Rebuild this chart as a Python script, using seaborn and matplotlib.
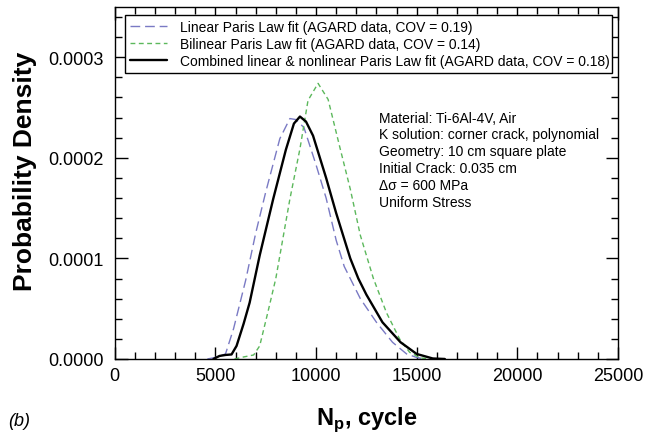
import matplotlib
matplotlib.use("Agg")
import matplotlib.pyplot as plt
import seaborn as sns
import pandas as pd
from matplotlib.ticker import MultipleLocator, FormatStrFormatter

# ---- data ----
linear_x = [4600, 5000, 5500, 5900, 6500, 7000, 7500, 8200, 8700, 9000, 9400,
            10000, 10500, 11000, 11400, 12200, 13000, 13800, 14500, 15000, 15400]
linear_y = [0, 0.0000015, 0.000005, 0.00003, 0.000078, 0.000125, 0.000166,
            0.000219, 0.000239, 0.000238, 0.00023, 0.000193, 0.00016, 0.000118,
            0.000092, 0.00006, 0.0000365, 0.0000166, 0.000005, 0.0000015, 0]

bilinear_x = [5950, 6400, 6900, 7200, 7600, 8000, 8700, 9200, 9600, 10100,
              10600, 11200, 11700, 12200, 12850, 13500, 14150, 14650, 15200, 15700]
bilinear_y = [0, 0.000002, 0.000004, 0.000013, 0.000046, 0.00008, 0.000159,
              0.000209, 0.000257, 0.000274, 0.000258, 0.000209, 0.000169,
              0.000123, 0.00008, 0.000046, 0.00002, 0.0000066, 0.000001, 0]

combined_x = [4900, 5200, 5500, 5800, 6050, 6400, 6700, 7200, 7870, 8500, 8900,
              9200, 9500, 9850, 10500, 11000, 11700, 12100, 12500, 13300, 14200,
              15000, 15800, 16400]
combined_y = [0, 0.000003, 0.000004, 0.0000045, 0.000013, 0.000035, 0.000056,
              0.000103, 0.000159, 0.000208, 0.000234, 0.000241, 0.000236,
              0.000222, 0.00018, 0.000145, 0.0001, 0.00008, 0.000064, 0.0000365,
              0.0000166, 0.000005, 0.0000005, 0]

series_labels = ["Linear Paris Law fit (AGARD data, COV = 0.19)",
                 "Bilinear Paris Law fit (AGARD data, COV = 0.14)",
                 "Combined linear & nonlinear Paris Law fit (AGARD data, COV = 0.18)"]

x_ticks = [0, 5000, 10000, 15000, 20000, 25000]
y_ticks = [0.0, 0.0001, 0.0002, 0.0003]

annotation_lines = ["Material: Ti-6Al-4V, Air",
                    "K solution: corner crack, polynomial",
                    "Geometry: 10 cm square plate",
                    "Initial Crack: 0.035 cm",
                    "\u0394\u03c3 = 600 MPa",
                    "Uniform Stress"]

# ---- style ----
sns.set_style("ticks")
plt.rcParams["font.family"] = ["Liberation Sans", "DejaVu Sans"]
plt.rcParams["mathtext.fontset"] = "custom"
plt.rcParams["mathtext.rm"] = "Liberation Sans"
plt.rcParams["mathtext.bf"] = "Liberation Sans:bold"
plt.rcParams["text.color"] = "black"
plt.rcParams["axes.labelcolor"] = "black"
plt.rcParams["xtick.color"] = "black"
plt.rcParams["ytick.color"] = "black"

fig = plt.figure(figsize=(6.45, 4.39), dpi=100)
ax = fig.add_axes([0.178, 0.18, 0.958 - 0.178, 0.982 - 0.18])

df_lin = pd.DataFrame({"x": linear_x, "y": linear_y})
df_bil = pd.DataFrame({"x": bilinear_x, "y": bilinear_y})
df_com = pd.DataFrame({"x": combined_x, "y": combined_y})

sns.lineplot(data=df_lin, x="x", y="y", ax=ax, color="#7a7ac4", lw=1.0,
             dashes=False, label=series_labels[0], sort=False)
sns.lineplot(data=df_bil, x="x", y="y", ax=ax, color="#5cb85c", lw=1.0,
             dashes=False, label=series_labels[1], sort=False)
sns.lineplot(data=df_com, x="x", y="y", ax=ax, color="black", lw=1.7,
             dashes=False, label=series_labels[2], sort=False)
ax.lines[0].set_dashes([7, 3.5])
ax.lines[1].set_dashes([3.5, 2.5])

ax.set_xlim(0, 25000)
ax.set_ylim(0, 0.00035)
ax.set_xticks(x_ticks)
ax.set_yticks(y_ticks)
ax.yaxis.set_major_formatter(FormatStrFormatter("%.4f"))
ax.xaxis.set_minor_locator(MultipleLocator(1000))
ax.yaxis.set_minor_locator(MultipleLocator(0.00002))
ax.tick_params(which="both", direction="in", top=True, right=True, width=1.0,
               colors="black", labelsize=13)
ax.tick_params(which="major", length=9)
ax.tick_params(which="minor", length=5)
ax.tick_params(axis="y", pad=8)
ax.tick_params(axis="x", pad=6)
for s in ax.spines.values():
    s.set_linewidth(1.0)
    s.set_color("black")

ax.set_ylabel("Probability Density", fontsize=19, fontweight="bold", color="black")
ax.yaxis.set_label_coords(-0.155, 0.535)
ax.set_xlabel(r"N$_\mathbf{p}$, cycle", fontsize=17, fontweight="bold", color="black")
ax.xaxis.set_label_coords(0.5, -0.13)

leg = ax.legend(loc="upper left", bbox_to_anchor=(0.02, 0.83, 0.968, 0.146),
                mode="expand", fontsize=10, frameon=True, fancybox=False,
                edgecolor="black", framealpha=1, handlelength=2.7,
                handletextpad=0.9, labelspacing=0.2, borderpad=0.35,
                borderaxespad=0)
leg.get_frame().set_linewidth(1.0)
for t in leg.get_texts():
    t.set_color("black")

ax.text(13150, 0.000247, "\n".join(annotation_lines), fontsize=10,
        va="top", ha="left", linespacing=1.27, color="black")

fig.text(0.012, 0.03, "(b)", fontsize=13, style="italic", color="black")

fig.savefig("out.png", dpi=100)
